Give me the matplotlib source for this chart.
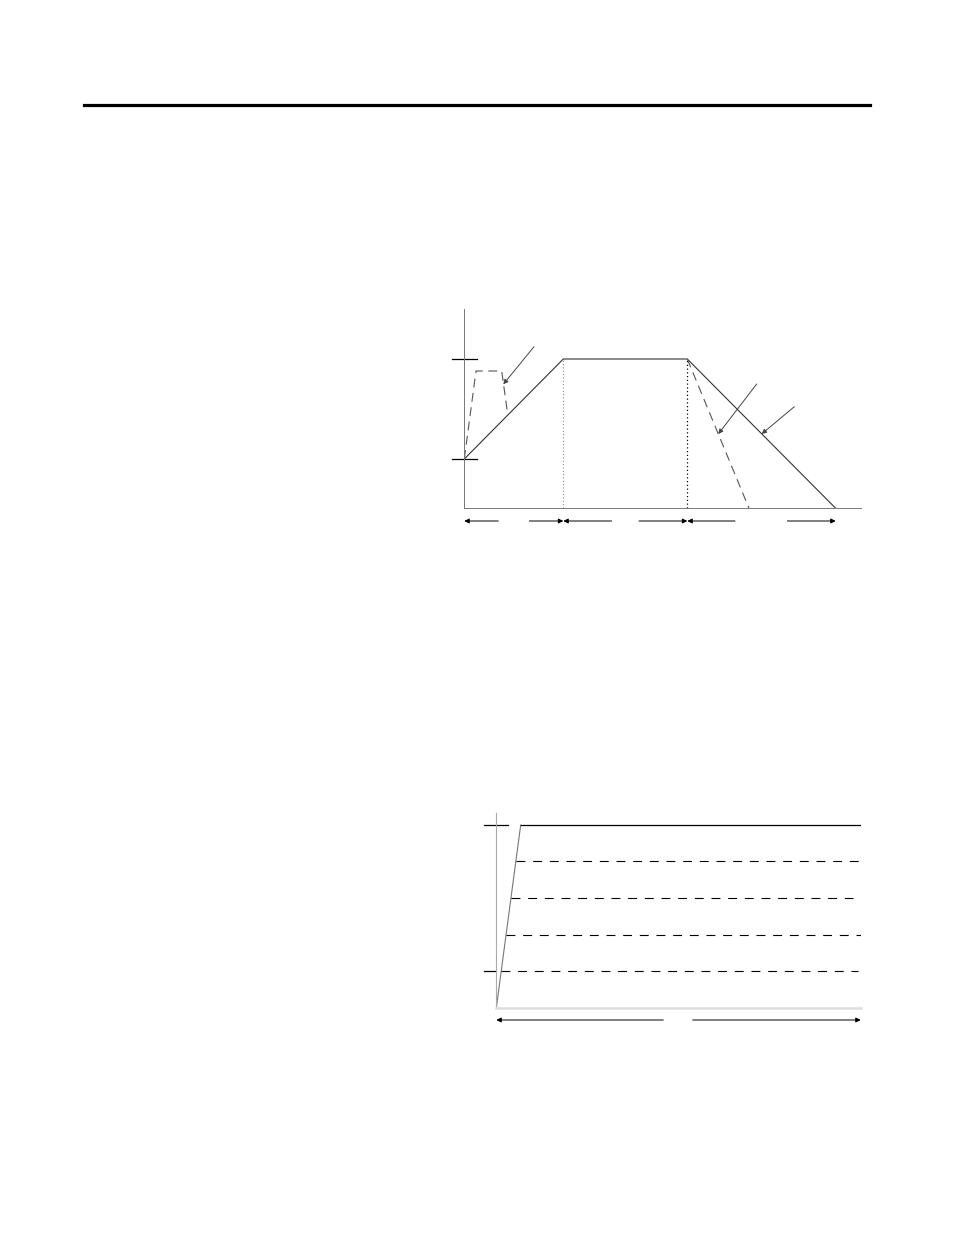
import matplotlib
matplotlib.use("Agg")
import matplotlib.pyplot as plt
from matplotlib.lines import Line2D

W, H = 954, 1235

# ---- profile 1 (speed vs time, units of 100 px) ----
prof_t = [0, 0.99, 2.23, 3.714]
prof_v = [0.493, 1.493, 1.493, 0]
boost_t = [0, 0.117, 0.374, 0.434]
boost_v = [0.493, 1.373, 1.373, 0.94]
fast_dec_t = [2.23, 2.847]
fast_dec_v = [1.493, 0]
marks1 = [0.493, 1.493]
# annotation arrows: (tail_x, tail_y, tip_x, tip_y)
notes1 = [(0.697, 1.616, 0.39, 1.24),
          (2.924, 1.243, 2.54, 0.743),
          (3.30, 1.016, 2.974, 0.743)]
# dimension arrows: (start, end) with head at end
dims1 = [(0.34, 0), (0.65, 0.99), (1.473, 0.99),
         (1.747, 2.23), (2.707, 2.23), (3.23, 3.714)]

# ---- profile 2 (ramp to several speed levels) ----
top_level = 1.83
levels = [1.467, 1.097, 0.727, 0.367]
level_ends = [3.637, 3.57, 3.644, 3.617]
ramp_t = [0, 0.244, 3.644]
ramp_v = [0, top_level, top_level]
dims2 = [(1.67, 0), (1.964, 3.644)]


def place(fig, left, bottom, xmax, ymax):
    # left/bottom in pixels from top-left, 100 px per data unit
    ax = fig.add_axes([left / W, (H - bottom) / H, xmax * 100 / W, ymax * 100 / H])
    ax.set_xlim(0, xmax)
    ax.set_ylim(0, ymax)
    ax.set_xticks([])
    ax.set_yticks([])
    for s in ("top", "right"):
        ax.spines[s].set_visible(False)
    return ax


def arrow(ax, x0, y0, x1, y1, color="black"):
    ax.annotate("", xy=(x1, y1), xytext=(x0, y0), annotation_clip=False,
                arrowprops=dict(arrowstyle="-|>", lw=0.7, color=color,
                                mutation_scale=7, shrinkA=0, shrinkB=0))


fig = plt.figure(figsize=(W / 100, H / 100), dpi=100)
fig.add_artist(Line2D([84 / W, 870 / W], [1 - 104.5 / H] * 2, lw=2.3, color="black"))

# diagram 1
ax1 = place(fig, 464.3, 508.3, 3.964, 1.99)
ax1.spines["left"].set_color("#777777")
ax1.spines["bottom"].set_color("#777777")
ax1.spines["left"].set_linewidth(0.7)
ax1.spines["bottom"].set_linewidth(0.7)
ax1.plot(prof_t, prof_v, color="#333333", lw=0.8)
ax1.plot(boost_t, boost_v, color="#555555", lw=0.8, ls=(0, (8, 5)))
ax1.plot(fast_dec_t, fast_dec_v, color="#555555", lw=0.8, ls=(0, (8, 5)))
ax1.plot([prof_t[1]] * 2, [0, prof_v[1]], color="#888888", lw=0.8, ls=(0, (1, 2)))
ax1.plot([prof_t[2]] * 2, [0, prof_v[2]], color="black", lw=0.9, ls=(0, (1, 2)))
for y in marks1:
    ax1.plot([-0.12, 0.124], [y, y], color="black", lw=0.9, clip_on=False)
for x0, y0, x1, y1 in notes1:
    arrow(ax1, x0, y0, x1, y1, color="#444444")
for x0, x1 in dims1:
    arrow(ax1, x0, -0.127, x1, -0.127)

# diagram 2
ax2 = place(fig, 496.3, 1008, 3.644, 1.95)
ax2.spines["left"].set_color("#aaaaaa")
ax2.spines["left"].set_linewidth(0.8)
ax2.spines["bottom"].set_color("#dddddd")
ax2.spines["bottom"].set_linewidth(1.8)
ax2.plot(ramp_t[:2], ramp_v[:2], color="#777777", lw=0.8)
ax2.plot(ramp_t[1:], ramp_v[1:], color="black", lw=0.9)
for lv, end in zip(levels, level_ends):
    start = ramp_t[1] * lv / top_level
    ax2.plot([start, end], [lv, lv], color="black", lw=0.8, ls=(0, (8, 7)))
ax2.plot([-0.123, 0.114], [top_level] * 2, color="black", lw=0.9, clip_on=False)
ax2.plot([-0.123, 0], [levels[-1]] * 2, color="black", lw=0.9, clip_on=False)
for x0, x1 in dims2:
    arrow(ax2, x0, -0.12, x1, -0.12)

fig.savefig("out.png", dpi=100)
